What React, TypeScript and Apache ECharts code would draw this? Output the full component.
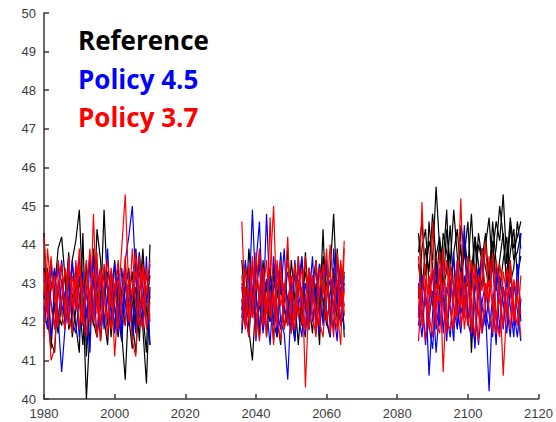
import React, { useEffect, useRef } from "react";
import * as echarts from "echarts";

// Block start years
const blockStarts = [1980, 2036, 2086];

// Reference (black) runs, one array per block
const refBlock1 = [
  [44.3,42.1,41.3,42.8,43.9,44.2,43.1,42.4,43.6,44.1,44.9,42.7,40.0,41.8,43.2,42.4,42.3,44.9,42.8,41.6,42.9,43.4,41.7,40.5,42.6,43.3,41.9,43.8,42.2,41.2,44.0],
  [42.6,43.4,41.5,41.2,42.9,43.5,42.0,43.2,42.7,41.9,41.2,44.3,41.1,42.5,41.9,44.4,43.6,42.1,41.4,43.0,42.4,41.6,42.8,43.5,42.1,41.3,43.9,42.6,41.8,40.4,42.9],
  [41.8,42.9,43.6,42.3,41.7,42.5,43.3,41.8,42.2,43.4,42.6,41.4,42.8,43.7,42.0,41.6,42.7,43.4,41.9,42.5,43.6,42.2,41.5,42.9,43.4,42.0,41.2,42.7,43.9,42.3,41.4],
  [43.4,42.4,42.9,43.3,42.2,41.9,42.6,43.8,41.6,42.3,43.1,42.0,43.5,42.2,43.9,42.8,41.5,42.6,43.3,42.9,41.8,43.0,42.6,41.9,43.1,42.4,42.9,41.5,43.6,42.5,43.2],
];
const refBlock2 = [
  [42.3,43.5,41.8,41.0,42.6,43.8,42.1,42.9,43.4,42.0,41.6,43.1,42.5,43.9,42.2,41.5,42.8,43.6,42.4,41.8,43.2,42.7,41.4,43.7,42.9,43.3,44.8,42.6,41.9,42.2],
  [43.6,42.2,43.9,42.7,41.9,42.5,43.3,41.6,42.8,43.4,42.1,41.4,43.0,42.6,41.7,43.5,42.3,41.9,43.8,42.4,42.9,43.6,42.2,44.4,42.0,41.6,43.2,42.8,43.5,41.6],
  [41.7,42.8,43.2,42.1,43.6,42.4,41.8,43.1,42.7,41.5,43.4,42.9,42.3,41.9,43.6,42.6,41.4,42.8,43.3,42.5,41.7,43.0,42.6,42.0,43.5,42.3,41.8,43.9,42.4,43.0],
  [42.9,41.9,42.5,43.4,42.8,41.6,43.6,42.3,42.0,43.2,42.6,43.7,41.8,42.5,43.1,42.2,43.7,42.0,41.6,43.4,42.8,42.1,43.5,42.6,41.9,42.7,43.4,42.0,42.6,43.3],
];
const refBlock3 = [
  [43.8,44.6,43.2,44.1,43.6,45.5,43.9,42.8,44.4,43.5,44.9,43.7,42.6,44.2,43.4,44.8,43.1,44.0,43.6,44.3,42.9,43.8,44.6,44.1,45.3,43.5,44.7,43.9,44.2,44.6],
  [44.3,43.1,42.7,44.6,43.4,42.9,44.1,43.6,44.9,42.5,43.8,44.4,43.2,43.7,44.6,42.8,44.2,43.5,42.9,44.0,44.7,43.3,43.9,45.0,44.2,43.1,44.5,43.6,43.8,44.3],
  [42.6,43.9,44.4,43.0,42.4,43.7,44.2,42.9,43.3,44.5,42.7,43.1,44.0,42.3,43.6,41.2,43.0,44.3,43.6,42.5,43.4,44.1,42.8,43.6,44.3,42.9,43.8,44.4,43.2,43.7],
  [43.5,42.8,43.9,43.3,44.8,43.6,42.7,44.3,43.8,43.2,43.6,42.4,44.5,43.9,42.9,43.3,44.2,42.6,43.9,43.4,42.9,44.6,43.5,42.8,43.6,44.2,43.0,43.4,44.6,43.9],
];

// Policy 4.5 (blue) runs
const p45Block1 = [
  [42.4,41.8,42.9,43.4,42.1,40.7,41.9,42.6,43.5,42.8,41.6,43.0,42.3,41.2,43.7,42.4,43.1,42.0,42.7,43.3,41.7,42.5,41.5,43.6,44.2,45.0,43.1,42.2,41.8,43.7,41.4],
  [43.1,42.7,41.6,42.9,43.5,42.2,42.8,41.9,43.6,42.4,43.2,42.6,41.5,43.7,42.0,42.9,43.4,41.8,42.6,43.1,42.3,41.7,43.4,42.5,41.9,42.8,43.5,42.1,42.7,43.2,42.6],
  [42.0,43.3,42.5,41.9,42.7,43.6,41.8,43.0,42.3,42.9,43.7,41.9,42.8,42.2,43.1,41.6,42.5,43.3,42.8,41.9,43.5,42.7,42.1,42.9,43.3,41.6,42.4,43.8,42.0,42.6,43.5],
  [42.8,42.2,43.4,42.6,41.9,43.1,42.5,43.7,42.0,41.7,42.6,43.3,42.1,42.8,42.4,43.5,41.9,42.6,43.9,42.2,42.7,43.2,41.8,42.4,43.0,42.5,41.7,43.3,42.9,41.9,42.2],
];
const p45Block2 = [
  [42.1,43.6,42.5,44.9,42.7,41.8,43.2,42.4,41.4,42.9,43.5,42.0,41.7,40.5,42.6,43.3,42.2,41.6,43.0,42.5,43.7,41.9,42.8,43.4,42.1,41.6,43.9,42.3,42.9,41.8],
  [43.0,42.3,41.6,42.8,43.5,44.6,42.2,44.8,42.6,41.9,43.4,42.7,43.9,42.1,41.8,43.6,42.4,42.9,41.7,43.3,42.0,42.7,43.5,41.9,42.6,43.1,42.3,41.5,43.4,42.8],
  [42.6,41.9,43.3,42.2,42.8,43.5,41.7,42.5,43.2,42.7,41.6,43.8,42.4,42.0,43.1,41.5,42.9,43.7,42.3,41.8,42.6,43.4,42.1,42.8,43.6,42.0,41.9,42.7,43.1,42.4],
  [41.8,42.7,42.2,43.6,41.5,42.9,42.6,43.1,42.0,43.7,42.3,41.8,42.6,43.3,42.8,42.1,43.5,42.4,42.7,41.9,43.2,42.5,41.7,42.9,43.4,42.2,42.8,43.6,41.9,43.2],
];
const p45Block3 = [
  [42.4,41.6,42.9,40.6,42.2,43.5,41.9,42.7,41.5,43.1,42.4,41.8,42.9,44.5,42.0,41.6,42.8,43.4,41.7,42.3,40.2,42.5,43.2,41.8,42.9,42.1,43.6,41.9,42.7,44.3],
  [41.9,42.8,41.4,42.5,43.3,41.8,42.6,43.7,42.2,41.6,43.0,42.4,41.7,42.9,43.5,42.0,41.5,42.7,43.9,42.3,41.8,42.6,41.4,43.2,42.5,41.7,42.9,42.3,41.6,42.6],
  [43.0,42.1,42.7,41.9,41.3,42.6,43.4,41.7,42.9,42.4,41.5,43.6,42.2,42.7,41.9,43.3,42.6,41.4,42.5,43.0,42.2,41.6,43.4,42.8,41.8,43.1,42.4,41.6,43.5,42.0],
  [42.2,43.2,42.5,42.1,42.8,41.2,42.4,43.0,41.8,42.6,43.8,41.9,42.5,43.2,42.0,42.6,41.3,43.1,42.4,41.9,42.7,43.5,42.1,41.7,42.9,42.4,41.6,43.0,42.3,41.5],
];

// Policy 3.7 (red) runs
const p37Block1 = [
  [44.2,42.6,41.0,41.3,42.8,43.5,42.1,43.7,42.4,43.1,41.8,42.9,43.6,41.9,44.8,42.2,43.4,42.7,41.6,43.2,41.1,42.5,43.9,45.3,42.8,41.5,41.1,43.7,42.3,43.4,42.0],
  [41.6,43.9,42.8,43.2,41.9,42.6,43.4,42.2,41.7,43.6,42.5,41.9,43.2,42.7,42.0,43.8,41.5,42.9,43.6,42.4,43.0,41.8,42.6,43.3,42.1,43.9,42.4,41.9,43.5,42.7,43.6],
  [43.3,42.1,43.7,42.5,43.0,42.2,41.8,43.4,42.9,42.3,43.5,42.0,42.7,43.9,42.4,41.6,43.2,42.6,42.1,43.4,42.8,43.6,42.2,41.9,43.1,42.7,43.8,42.3,41.8,42.9,43.1],
  [42.7,43.3,42.4,41.8,43.6,42.9,42.5,41.9,43.2,42.6,43.9,42.3,41.6,42.8,43.3,42.5,42.0,43.5,42.9,41.8,42.6,43.1,42.4,43.7,42.0,42.6,43.3,42.8,43.4,41.8,42.5],
];
const p37Block2 = [
  [44.6,42.2,41.6,43.4,42.8,43.9,41.9,42.5,43.3,45.0,42.1,41.5,42.8,43.6,42.3,41.8,42.9,43.4,40.3,42.6,43.2,41.7,42.8,43.5,42.0,42.6,41.6,43.8,42.4,44.1],
  [41.9,43.4,42.7,42.1,43.8,42.4,43.1,41.6,44.7,42.3,42.9,43.6,41.8,42.5,43.2,42.0,43.7,41.9,42.6,43.3,42.2,41.6,43.4,42.7,43.9,41.7,42.5,43.1,41.9,42.8],
  [43.2,41.8,43.5,42.6,41.6,42.9,43.4,42.2,42.8,41.4,43.6,42.4,43.0,41.9,42.6,43.5,42.1,42.8,43.7,41.8,42.5,43.6,42.0,41.6,42.9,43.3,42.4,41.8,43.6,42.2],
  [42.5,42.9,42.0,43.7,42.3,41.5,42.7,43.6,42.1,42.8,41.9,43.3,42.6,44.2,41.7,42.4,43.1,42.6,41.8,43.4,42.9,42.3,41.9,43.0,42.5,44.0,42.8,42.3,41.4,43.9],
];
const p37Block3 = [
  [42.1,45.1,42.6,41.8,44.6,42.3,43.4,40.7,42.8,43.5,41.9,42.6,45.2,42.1,43.7,42.4,41.6,43.2,42.8,44.1,42.3,41.7,43.6,42.9,40.6,42.4,43.5,42.0,42.7,41.6],
  [43.7,42.3,41.5,43.2,42.6,41.9,43.8,42.4,41.7,43.4,42.9,42.1,43.3,41.8,42.7,43.6,42.2,41.5,43.9,42.6,43.1,42.4,41.7,43.5,42.8,42.1,43.6,42.4,41.9,43.2],
  [41.5,42.8,43.5,42.2,41.6,43.0,42.5,43.9,42.0,41.8,42.7,43.6,41.9,42.5,43.2,41.7,43.4,42.8,41.9,42.4,43.7,42.6,42.0,41.6,43.3,42.7,41.8,43.1,42.6,42.2],
  [42.9,41.9,43.1,42.7,43.4,42.0,41.7,42.9,43.6,42.3,41.8,43.3,42.4,43.0,41.9,42.7,43.5,42.2,41.7,43.0,42.5,43.8,42.1,42.6,41.9,43.4,42.7,42.0,43.1,42.5],
];

const groups = [
  { name: "Reference", color: "#000000", blocks: [refBlock1, refBlock2, refBlock3] },
  { name: "Policy 4.5", color: "#0000ff", blocks: [p45Block1, p45Block2, p45Block3] },
  { name: "Policy 3.7", color: "#ff0000", blocks: [p37Block1, p37Block2, p37Block3] },
];

const xTicks = { min: 1980, max: 2120, interval: 20 };
const yTicks = { min: 40, max: 50, interval: 1 };

export default function App() {
  const ref = useRef<HTMLDivElement>(null);
  useEffect(() => {
    if (!ref.current) return;
    const chart = echarts.init(ref.current, null, { renderer: "svg" });
    const series: any[] = [];
    groups.forEach((g) => {
      g.blocks.forEach((runs, bi) => {
        runs.forEach((run) => {
          series.push({
            type: "line",
            name: g.name,
            showSymbol: false,
            symbol: "none",
            silent: true,
            lineStyle: { color: g.color, width: 1.2 },
            data: run.map((v, i) => [blockStarts[bi] + i, v]),
          });
        });
      });
    });
    const axisColor = "#3a3a3a";
    const labelStyle = { color: "#3c3c3c", fontSize: 13, fontFamily: "Liberation Sans, Arial, sans-serif" };
    const legendText = [
      { text: "Reference", color: "#000000", top: 27 },
      { text: "Policy 4.5", color: "#0000ff", top: 65.5 },
      { text: "Policy 3.7", color: "#ff0000", top: 104 },
    ];
    chart.setOption({
      animation: false,
      grid: { left: 44, right: 17, top: 13, bottom: 23 },
      xAxis: {
        type: "value",
        min: xTicks.min,
        max: xTicks.max,
        interval: xTicks.interval,
        axisLine: { lineStyle: { color: axisColor, width: 1.5 } },
        axisTick: { inside: true, length: 5, lineStyle: { color: axisColor, width: 1.5 } },
        axisLabel: { ...labelStyle, margin: 8, formatter: (v: number) => String(v) },
        splitLine: { show: false },
      },
      yAxis: {
        type: "value",
        min: yTicks.min,
        max: yTicks.max,
        interval: yTicks.interval,
        axisLine: { show: true, lineStyle: { color: axisColor, width: 1.5 } },
        axisTick: { show: true, inside: true, length: 5, lineStyle: { color: axisColor, width: 1.5 } },
        axisLabel: { ...labelStyle, margin: 8 },
        splitLine: { show: false },
      },
      series,
      graphic: legendText.map((t) => ({
        type: "text",
        left: 78,
        top: t.top,
        style: {
          text: t.text,
          fill: t.color,
          font: "bold 26px 'Open Sans', Lato, sans-serif",
        },
      })),
    });
    return () => chart.dispose();
  }, []);
  return <div ref={ref} style={{ width: 556, height: 422, position: "absolute", left: 0, top: 0 }} />;
}
